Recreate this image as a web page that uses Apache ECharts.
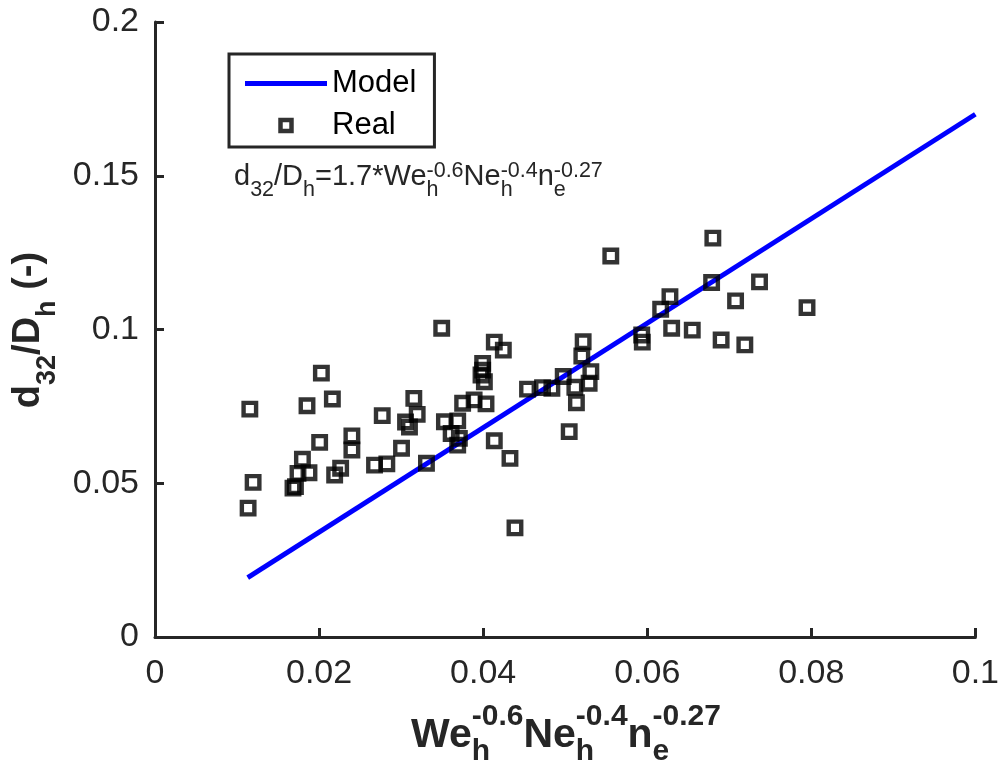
<!DOCTYPE html>
<html><head><meta charset="utf-8">
<script src="https://cdn.jsdelivr.net/npm/echarts@6/dist/echarts.min.js"></script>
<style>html,body{margin:0;padding:0;background:#fff}#c{width:1002px;height:772px}</style>
</head><body><div id="c"></div>
<script>
// ---- data ----
const xTickValues = [0, 0.02, 0.04, 0.06, 0.08, 0.1];
const yTickValues = [0, 0.05, 0.1, 0.15, 0.2];
const seriesNames = ['Model', 'Real'];
const modelX = [0.0113, 0.1];
const modelY = [0.0193, 0.17];
const realX = [0.01156,0.01196,0.01135,0.02028,0.01853,0.02162,0.02007,0.01797,0.01743,0.01877,
  0.01682,0.01712,0.0219,0.02263,0.0240,0.0240,0.0277,0.02676,0.02826,0.03005,
  0.03155,0.03196,0.03054,0.03102,0.03309,0.03495,0.03528,0.0369,0.0361,0.0371,
  0.0369,0.0375,0.0389,0.04035,0.03994,0.03994,0.03974,0.04015,0.04136,0.04246,
  0.04136,0.04327,0.04388,0.04541,0.04724,0.04838,0.04976,0.05049,0.05118,0.05137,
  0.05219,0.05203,0.05313,0.05292,0.05556,0.05933,0.0594,0.06164,0.06277,0.06298,
  0.06549,0.0680,0.06785,0.06901,0.07077,0.0719,0.07369,0.07948];
const realY = [0.0741,0.0503,0.0419,0.0858,0.0752,0.0774,0.0633,0.0578,0.0532,0.0534,
  0.0484,0.0489,0.0527,0.0549,0.0654,0.0608,0.0720,0.0559,0.0563,0.0614,
  0.0776,0.0724,0.0699,0.0683,0.0565,0.1004,0.0700,0.0703,0.0662,0.0646,
  0.0624,0.0760,0.0771,0.0758,0.0890,0.0868,0.0852,0.0830,0.0959,0.0933,
  0.0638,0.0581,0.0355,0.0806,0.0811,0.0809,0.0847,0.0668,0.0812,0.0762,
  0.0960,0.0914,0.0863,0.0825,0.1239,0.0982,0.0959,0.1066,0.1107,0.1004,
  0.0998,0.1297,0.1153,0.0966,0.1093,0.0950,0.1155,0.1071];
// text pieces: [base, subscript, superscript]
const formulaParts = [['d','32',''],['/D','h',''],['=1.7*We','h','-0.6'],['Ne','h','-0.4'],['n','e','-0.27']];
const xTitleParts = [['We','h','-0.6'],['Ne','h','-0.4'],['n','e','-0.27']];
const yTitleParts = [['d','32',''],['/D','h',''],[' (-)','','']];

// ---- helpers ----
const FAM = '"Liberation Sans", Arial, sans-serif';
const ctx = document.createElement('canvas').getContext('2d');
function tw(t, fs, bold) { ctx.font = (bold ? 'bold ' : '') + fs + 'px ' + FAM; return ctx.measureText(t).width; }
// lay out base/sub/sup with baseline at y=0 starting at x=0
function mathText(parts, o) {
  const kids = []; let x = 0;
  const mid = fs => -0.345 * fs;
  function add(t, fs, bx, by) {
    if (!t) return;
    kids.push({ type: 'text', x: bx, y: by + mid(fs), silent: true,
      style: { text: t, fontSize: fs, fontFamily: FAM, fontWeight: o.bold ? 'bold' : 'normal',
        fill: o.color, align: 'left', verticalAlign: 'middle' } });
  }
  parts.forEach(p => {
    add(p[0], o.main, x, 0); x += tw(p[0], o.main, o.bold);
    add(p[1], o.script, x, o.subDy); add(p[2], o.script, x, o.supDy);
    x += Math.max(p[1] ? tw(p[1], o.script, o.bold) : 0, p[2] ? tw(p[2], o.script, o.bold) : 0);
  });
  return { kids, width: x };
}
function shift(m, dx) { m.kids.forEach(k => k.x += dx); return m.kids; }

const formula = mathText(formulaParts, { main: 29, script: 21.5, bold: false, color: '#262626', subDy: 10, supDy: -9 });
const xTitle = mathText(xTitleParts, { main: 41, script: 30, bold: true, color: '#262626', subDy: 12, supDy: -23 });
const yTitle = mathText(yTitleParts, { main: 38, script: 27, bold: true, color: '#262626', subDy: 15, supDy: -20 });

const AX = '#262626';
const chart = echarts.init(document.getElementById('c'), null, { renderer: 'canvas' });
chart.setOption({
  animation: false,
  backgroundColor: '#fff',
  grid: { left: 155, right: 25, top: 22, bottom: 135, containLabel: false },
  xAxis: {
    type: 'value', min: xTickValues[0], max: xTickValues[xTickValues.length - 1], interval: xTickValues[1] - xTickValues[0],
    axisLine: { onZero: false, lineStyle: { color: AX, width: 3 } },
    axisTick: { inside: true, length: 9, lineStyle: { color: AX, width: 3 } },
    splitLine: { show: false },
    axisLabel: { fontSize: 34, fontFamily: FAM, color: AX, margin: 20 }
  },
  yAxis: {
    type: 'value', min: yTickValues[0], max: yTickValues[yTickValues.length - 1], interval: yTickValues[1] - yTickValues[0],
    axisLine: { onZero: false, lineStyle: { color: AX, width: 3 } },
    axisTick: { inside: true, length: 9, lineStyle: { color: AX, width: 3 } },
    splitLine: { show: false },
    axisLabel: { fontSize: 34, fontFamily: FAM, color: AX, margin: 16 }
  },
  legend: {
    orient: 'vertical', left: 229, top: 54,
    itemWidth: 82, itemHeight: 11, itemGap: 11,
    symbolKeepAspect: true,
    padding: [14, 18, 6, 16],
    borderColor: AX, borderWidth: 3, backgroundColor: '#fff',
    textStyle: { fontSize: 31, fontFamily: FAM, color: '#000' },
    data: [
      { name: seriesNames[0], icon: 'path://M0,0H82V5H0Z', itemStyle: { color: '#0000ff', borderWidth: 0 } },
      { name: seriesNames[1], icon: 'path://M0,0H10V10H0Z', itemStyle: { color: 'rgba(0,0,0,0)', borderColor: '#000', borderWidth: 4.5 } }
    ]
  },
  series: [
    { name: seriesNames[0], type: 'line', data: modelX.map((x, i) => [x, modelY[i]]), symbol: 'none',
      color: '#0000ff', lineStyle: { color: '#0000ff', width: 5 }, emphasis: { disabled: true }, z: 2 },
    { name: seriesNames[1], type: 'scatter', data: realX.map((x, i) => [x, realY[i]]), symbol: 'rect', symbolSize: 12.5,
      color: '#000', itemStyle: { color: 'rgba(0,0,0,0)', borderColor: '#000', borderWidth: 4.4 },
      emphasis: { disabled: true }, z: 3 }
  ],
  graphic: { elements: [
    { type: 'group', x: 234, y: 187, children: shift(formula, 0) },
    { type: 'group', x: 566, y: 750, children: shift(xTitle, -xTitle.width / 2) },
    { type: 'group', x: 42, y: 330, rotation: Math.PI / 2, children: shift(yTitle, -yTitle.width / 2) }
  ] }
});
</script></body></html>
